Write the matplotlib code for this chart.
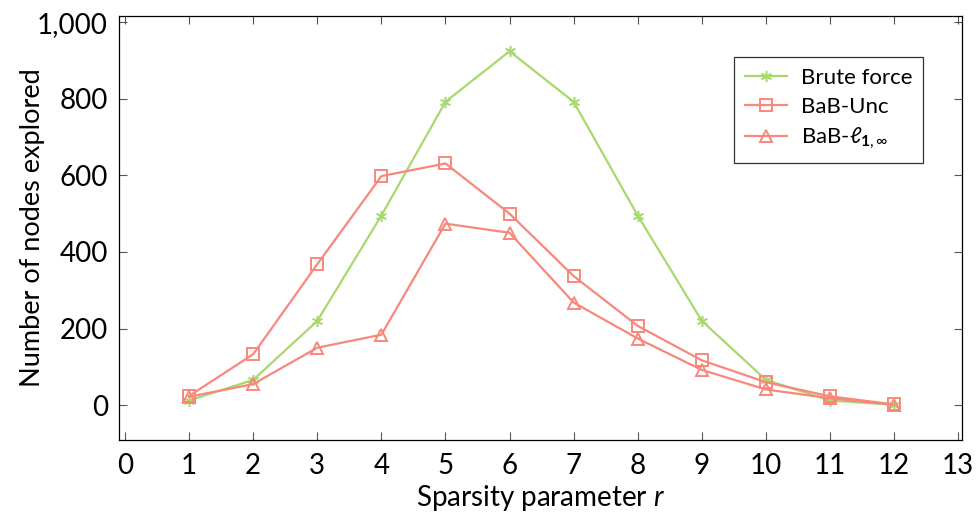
import matplotlib
matplotlib.use("Agg")
import matplotlib.pyplot as plt
from matplotlib.ticker import FuncFormatter

plt.rcParams['font.family'] = ['Lato', 'DejaVu Sans']
plt.rcParams['mathtext.fontset'] = 'custom'
plt.rcParams['mathtext.rm'] = 'Lato'
plt.rcParams['mathtext.it'] = 'Lato:italic'
plt.rcParams['mathtext.bf'] = 'Lato:bold'

r = [1, 2, 3, 4, 5, 6, 7, 8, 9, 10, 11, 12]
brute = [12, 66, 220, 495, 792, 924, 792, 495, 220, 66, 12, 1]
bab_unc = [24, 133, 368, 598, 631, 500, 337, 207, 117, 60, 23, 2]
bab_l1 = [22, 55, 150, 184, 474, 450, 268, 174, 92, 41, 18, 1]

green = '#a9d86e'
red = '#f8877c'

fig = plt.figure(figsize=(9.76, 5.17), dpi=100)
ax = fig.add_axes([0.1219, 0.1489, 0.8638, 0.8201])

ax.plot(r, brute, color=green, lw=1.6, marker=(6, 2, 0), ms=8, mew=1.1,
        label='Brute force')
ax.plot(r, bab_unc, color=red, lw=1.6, marker='s', ms=8, mfc='none', mew=1.4,
        label='BaB-Unc')
ax.plot(r, bab_l1, color=red, lw=1.6, marker='^', ms=8, mfc='none', mew=1.4,
        label=r'BaB-$\ell_{\mathbf{1},\infty}$')

ax.set_xlim(-0.094, 13.06)
ax.set_ylim(-91, 1016)
ax.set_xticks(range(0, 14))
ax.set_yticks([0, 200, 400, 600, 800, 1000])
ax.yaxis.set_major_formatter(FuncFormatter(lambda v, p: f'{int(v):,}'))

ax.tick_params(direction='in', length=6, width=0.8, color='#555555',
               top=True, right=True, labelsize=20, pad=8)
ax.tick_params(axis='x', pad=9)
for s in ax.spines.values():
    s.set_linewidth(0.9)

ax.set_xlabel(r'Sparsity parameter $r$', fontsize=20)
ax.set_ylabel('Number of nodes explored', fontsize=19.5)
ax.yaxis.set_label_coords(-0.088, 0.5)
ax.xaxis.set_label_coords(0.5, -0.102)

leg = ax.legend(loc='upper right', bbox_to_anchor=(0.954, 0.903), fontsize=16,
                frameon=True, fancybox=False, edgecolor='black',
                borderaxespad=0, handlelength=1.9, handletextpad=0.6,
                borderpad=0.5, labelspacing=0.4)
leg.get_frame().set_linewidth(0.9)

fig.savefig('out.png', dpi=100)
